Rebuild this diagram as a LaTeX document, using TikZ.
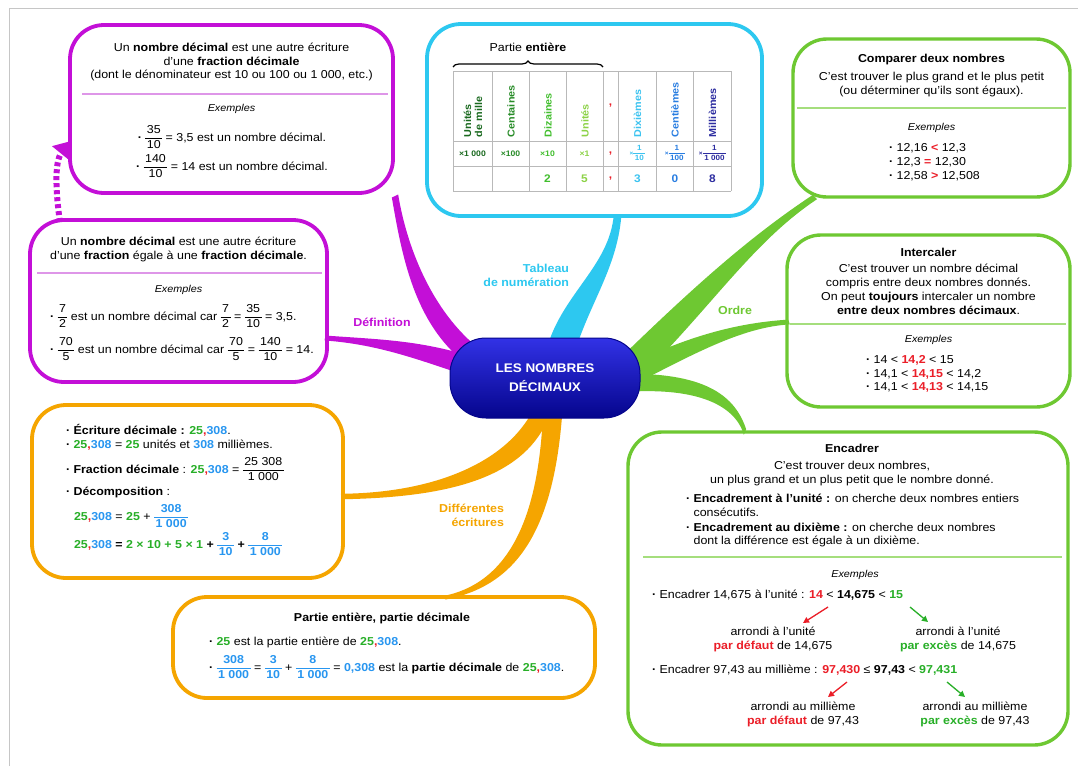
\documentclass[tikz,border=0pt]{standalone}
\usepackage{fontspec}
\setmainfont[FakeStretch=1.08]{Liberation Sans}
\setsansfont[FakeStretch=1.08]{Liberation Sans}
\usetikzlibrary{calc,arrows.meta,decorations.pathreplacing}
\pgfdeclarelayer{bg}
\pgfsetlayers{bg,main}
\definecolor{mpurple}{RGB}{195,15,215}
\definecolor{lpurple}{RGB}{222,150,232}
\definecolor{mcyan}{RGB}{45,200,240}
\definecolor{mgreen}{RGB}{110,200,50}
\definecolor{lgreen}{RGB}{165,222,125}
\definecolor{morange}{RGB}{245,165,0}
\definecolor{ngreen}{RGB}{40,175,40}
\definecolor{nblue}{RGB}{40,150,240}
\definecolor{nred}{RGB}{235,30,40}
\definecolor{cUm}{RGB}{25,105,30}
\definecolor{cCe}{RGB}{40,140,40}
\definecolor{cDi}{RGB}{65,190,45}
\definecolor{cUn}{RGB}{140,210,70}
\definecolor{cDx}{RGB}{60,195,240}
\definecolor{cCt}{RGB}{40,125,225}
\definecolor{cMi}{RGB}{45,45,160}
\definecolor{rootTop}{RGB}{50,50,230}
\definecolor{rootMid}{RGB}{20,20,205}
\definecolor{rootBot}{RGB}{5,5,140}
\setlength\arrayrulewidth{0.9pt}
\renewcommand\arraystretch{1.08}
\newcommand\fsz{\fontsize{11.5}{13.8}\selectfont}
\newcommand\fr[3][black]{{\color{#1}\begin{tabular}{@{\kern1.5pt}c@{\kern1.5pt}}#2\\\hline #3\end{tabular}}}
\newcommand\nb{\textbf{\textcolor{ngreen}{25}\textcolor{nred}{,}\textcolor{nblue}{308}}}
\newcommand\gr[1]{\textbf{\textcolor{ngreen}{#1}}}
\newcommand\bl[1]{\textbf{\textcolor{nblue}{#1}}}
\newcommand\rd[1]{\textbf{\textcolor{nred}{#1}}}
\newcommand\bul{\textbf{·}\ }
\newcommand\branch[7]{\fill[#1] ($(#2)!#6!90:(#5)$) .. controls ($(#3)!#6!90:(#5)$) and ($(#4)!#7!-90:(#2)$) .. ($(#5)!#7!-90:(#2)$) -- ($(#5)!#7!90:(#2)$) .. controls ($(#4)!#7!90:(#2)$) and ($(#3)!#6!-90:(#5)$) .. ($(#2)!#6!-90:(#5)$) -- cycle;}
\begin{document}
\begin{tikzpicture}[x=1pt,y=-1pt,font=\fsz,
  every node/.style={inner sep=0pt,outer sep=0pt},
  mbox/.style={draw,line width=3.8pt,rounded corners=34pt,anchor=north west},
  pbox/.style={mbox,draw=mpurple},
  obox/.style={mbox,draw=morange},
  gbox/.style={mbox,draw=mgreen,line width=3.4pt},
  cbox/.style={mbox,draw=mcyan},
  ctext/.style={align=center},
  ltext/.style={anchor=west,align=left},
  extxt/.style={font=\fontsize{10}{12}\selectfont\itshape},
  ttl/.style={font=\fsz\bfseries},
  lbl/.style={font=\fsz\bfseries,align=right},
  psep/.style={lpurple,line width=1.5pt},
  gsep/.style={lgreen,line width=1.5pt},
  hdr/.style={rotate=90,anchor=west,align=left,font=\fontsize{10}{11}\selectfont\bfseries},
  multxt/.style={font=\fontsize{8}{9}\selectfont\bfseries},
  digtxt/.style={font=\fontsize{11}{12}\selectfont\bfseries},
  commatxt/.style={font=\fontsize{11}{12}\selectfont\bfseries,text=nred},
  tgrid/.style={gray!55,line width=0.8pt},
  rootn/.style={rounded corners=36pt,minimum width=190pt,minimum height=80pt,
    top color=rootTop,middle color=rootMid,bottom color=rootBot,draw=rootBot,line width=1pt,
    text=white,font=\fontsize{12.5}{19}\selectfont\bfseries,align=center},
  smallarrow/.style={line width=1.3pt,-{Triangle[length=6pt,width=6pt]}}]
\begin{pgfonlayer}{bg}
\fill[white] (0,0) rectangle (1078,766);
\end{pgfonlayer}
\useasboundingbox (0,0) rectangle (1078,766);
\draw[gray!45,line width=0.8pt] (9,766) -- (9,8) -- (1078,8);

% ---------- centre
\node[rootn] (root) at (545,378) {LES NOMBRES\\DÉCIMAUX};

% ---------- Définition 1
\node[pbox,minimum width=323pt,minimum height=168pt] (d1) at (70,25) {};
\node[ctext] (d1t) at (231.5,62) {Un \textbf{nombre décimal} est une autre écriture\\d’une \textbf{fraction décimale}\\(dont le dénominateur est 10 ou 100 ou 1 000, etc.)};
\draw[psep] (82,94) -- (388,94);
\node[extxt] (d1e) at (231.5,109) {Exemples};
\node (d1a) at (232,138) {\bul\fr{35}{10} = 3,5 est un nombre décimal.};
\node (d1b) at (232,167) {\bul\fr{140}{10} = 14 est un nombre décimal.};

% ---------- Définition 2
\node[pbox,minimum width=297pt,minimum height=162pt] (d2) at (30,220) {};
\node[ctext] (d2t) at (178.5,249.5) {Un \textbf{nombre décimal} est une autre écriture\\d’une \textbf{fraction} égale à une \textbf{fraction décimale}.};
\draw[psep] (37,273) -- (322,273);
\node[extxt] (d2e) at (178.5,290) {Exemples};
\node[ltext] (d2a) at (50,317) {\bul\fr{7}{2} est un nombre décimal car \fr{7}{2} = \fr{35}{10} = 3,5.};
\node[ltext] (d2b) at (50,350) {\bul\fr{70}{5} est un nombre décimal car \fr{70}{5} = \fr{140}{10} = 14.};

% ---------- Différentes écritures 1
\node[obox,minimum width=311pt,minimum height=173pt] (o1) at (32,405) {};
\node[ltext] (o1a) at (66,430) {\bul\textbf{Écriture décimale :} \nb.};
\node[ltext] (o1b) at (66,445) {\bul\nb{} = \gr{25} unités et \bl{308} millièmes.};
\node[ltext] (o1c) at (66,470) {\bul\textbf{Fraction décimale} : \nb{} = \fr{25 308}{1 000}};
\node[ltext] (o1d) at (66,492) {\bul\textbf{Décomposition} :};
\node[ltext] (o1e) at (74,517) {\nb{} = \gr{25} + \fr[nblue]{\textbf{308}}{\textbf{1 000}}};
\node[ltext] (o1f) at (74,545) {\nb{} \textbf{=} \gr{2 × 10 + 5 × 1} \textbf{+} \fr[nblue]{\textbf{3}}{\textbf{10}} \textbf{+} \fr[nblue]{\textbf{8}}{\textbf{1 000}}};

% ---------- Différentes écritures 2
\node[obox,minimum width=422pt,minimum height=101pt] (o2) at (173,597) {};
\node[ttl] (o2t) at (382,618) {Partie entière, partie décimale};
\node[ltext] (o2a) at (209,642) {\bul\gr{25} est la partie entière de \nb.};
\node[ltext] (o2b) at (209,668) {\bul\fr[nblue]{\textbf{308}}{\textbf{1 000}} = \fr[nblue]{\textbf{3}}{\textbf{10}} + \fr[nblue]{\textbf{8}}{\textbf{1 000}} = \bl{0,308} est la \textbf{partie décimale} de \nb.};

% ---------- Tableau
\node[cbox,minimum width=335pt,minimum height=192pt] (tb) at (427,24) {};
\node (pe) at (528,47) {Partie \textbf{entière}};
\draw[decorate,decoration={brace,amplitude=6pt},line width=1.2pt] (453,67) -- (603,67);
\foreach \cx in {453,492,529,566,603,618,656,693,731} \draw[tgrid] (\cx,71) -- (\cx,191);
\foreach \ry in {71,141,166,191} \draw[tgrid] (453,\ry) -- (731,\ry);
\node[hdr,text=cUm] (hUm) at (473,137) {Unités\\de mille};
\node[hdr,text=cCe] (hCe) at (511,137) {Centaines};
\node[hdr,text=cDi] (hDi) at (548,137) {Dizaines};
\node[hdr,text=cUn] (hUn) at (585,137) {Unités};
\node[commatxt] (hv1) at (610.5,106) {,};
\node[hdr,text=cDx] (hDx) at (637.5,137) {Dixièmes};
\node[hdr,text=cCt] (hCt) at (675,137) {Centièmes};
\node[hdr,text=cMi] (hMi) at (712.5,137) {Millièmes};
\node[multxt,text=cUm] (mUm) at (472.5,153.5) {×1 000};
\node[multxt,text=cCe] (mCe) at (510.5,153.5) {×100};
\node[multxt,text=cDi] (mDi) at (547.5,153.5) {×10};
\node[multxt,text=cUn] (mUn) at (584.5,153.5) {×1};
\node[commatxt] (hv2) at (610.5,153.5) {,};
\node[multxt,text=cDx] (mDx) at (637.5,153.5) {{\fontsize{6}{7}\selectfont×}{\fontsize{7.5}{8.5}\selectfont\fr[cDx]{1}{10}}};
\node[multxt,text=cCt] (mCt) at (675,153.5) {{\fontsize{6}{7}\selectfont×}{\fontsize{7.5}{8.5}\selectfont\fr[cCt]{1}{100}}};
\node[multxt,text=cMi] (mMi) at (712.5,153.5) {{\fontsize{6}{7}\selectfont×}{\fontsize{7.5}{8.5}\selectfont\fr[cMi]{1}{1 000}}};
\node[digtxt,text=cDi] (vDi) at (547.5,178.5) {2};
\node[digtxt,text=cUn] (vUn) at (584.5,178.5) {5};
\node[commatxt] (hv3) at (610.5,178.5) {,};
\node[digtxt,text=cDx] (vDx) at (637.5,178.5) {3};
\node[digtxt,text=cCt] (vCt) at (675,178.5) {0};
\node[digtxt,text=cMi] (vMi) at (712.5,178.5) {8};

% ---------- Comparer
\node[gbox,minimum width=277pt,minimum height=158pt] (g1) at (793,39) {};
\node[ttl] (g1t) at (931.5,60) {Comparer deux nombres};
\node[ctext] (g1d) at (931.5,84.5) {C’est trouver le plus grand et le plus petit\\(ou déterminer qu’ils sont égaux).};
\draw[gsep] (797,108) -- (1066,108);
\node[extxt] (g1e) at (931.5,128) {Exemples};
\node[ltext] (g1a) at (889,162) {\bul 12,16 \rd{<} 12,3\\\bul 12,3 \rd{=} 12,30\\\bul 12,58 \rd{>} 12,508};

% ---------- Intercaler
\node[gbox,minimum width=283pt,minimum height=172pt] (g2) at (787,235) {};
\node[ttl] (g2t) at (928.5,252) {Intercaler};
\node[ctext] (g2d) at (928.5,289.5) {C’est trouver un nombre décimal\\compris entre deux nombres donnés.\\On peut \textbf{toujours} intercaler un nombre\\\textbf{entre deux nombres décimaux}.};
\draw[gsep] (790,324) -- (1066,324);
\node[extxt] (g2e) at (928.5,340) {Exemples};
\node[ltext] (g2a) at (866,374) {\bul 14 < \rd{14,2} < 15\\\bul 14,1 < \rd{14,15} < 14,2\\\bul 14,1 < \rd{14,13} < 14,15};

% ---------- Encadrer
\node[gbox,minimum width=440pt,minimum height=313pt] (g3) at (628,432) {};
\node[ttl] (g3t) at (852,448) {Encadrer};
\node[ctext] (g3d) at (852,473.5) {C’est trouver deux nombres,\\un plus grand et un plus petit que le nombre donné.};
\node[ltext] (g3a) at (686,505) {\bul\textbf{Encadrement à l’unité :} on cherche deux nombres entiers\\\phantom{\bul}consécutifs.};
\node[ltext] (g3b) at (686,535) {\bul\textbf{Encadrement au dixième :} on cherche deux nombres\\\phantom{\bul}dont la différence est égale à un dixième.};
\draw[gsep] (643,557) -- (1062,557);
\node[extxt] (g3e) at (855,575) {Exemples};
\node[ltext] (g3f) at (652,595) {\bul Encadrer 14,675 à l’unité : \rd{14} < \textbf{14,675} < \gr{15}};
\node[ctext] (g3g) at (773,639.5) {arrondi à l’unité\\\rd{par défaut} de 14,675};
\node[ctext] (g3h) at (958,639.5) {arrondi à l’unité\\\gr{par excès} de 14,675};
\node[ltext] (g3i) at (652,670) {\bul Encadrer 97,43 au millième : \rd{97,430} ≤ \textbf{97,43} < \gr{97,431}};
\node[ctext] (g3j) at (803,714.5) {arrondi au millième\\\rd{par défaut} de 97,43};
\node[ctext] (g3k) at (975,714.5) {arrondi au millième\\\gr{par excès} de 97,43};
\coordinate (ra1) at (828,607); \coordinate (ra2) at (803,623);
\coordinate (ga1) at (910,607); \coordinate (ga2) at (928,622);
\coordinate (rb1) at (847,682); \coordinate (rb2) at (828,697);
\coordinate (gb1) at (947,682); \coordinate (gb2) at (965,697);
\draw[smallarrow,nred] (ra1) -- (ra2);
\draw[smallarrow,ngreen] (ga1) -- (ga2);
\draw[smallarrow,nred] (rb1) -- (rb2);
\draw[smallarrow,ngreen] (gb1) -- (gb2);

% ---------- branch labels
\node[lbl,text=mpurple] (lDef) at (382,322) {Définition};
\node[lbl,text=mcyan,anchor=east] (lTab) at (569,275.5) {Tableau\\de numération};
\node[lbl,text=mgreen] (lOrd) at (735,310) {Ordre};
\node[lbl,text=morange,anchor=east] (lDif) at (504,515.5) {Différentes\\écritures};

% ---------- dotted arrow
\coordinate (ar0) at ($(d2.north west)+(30,2)$);
\coordinate (ar1) at ($(d1.west)+(1,32)$);
\draw[mpurple,line width=6pt,dash pattern=on 4pt off 3pt,-{Triangle[length=16pt,width=22pt]}] (ar0) .. controls (56,195) and (54,162) .. (ar1);

% ---------- branches
\begin{pgfonlayer}{bg}
\coordinate (pa0) at ($(d1.south east)+(2,3)$);
\coordinate (pa3) at ($(root.west)+(25,-20)$);
\branch{mpurple}{pa0}{405,255}{425,320}{pa3}{3.5pt}{11pt}
\coordinate (pb0) at ($(d2.east)+(-2,37)$);
\coordinate (pb3) at ($(root.west)+(25,-10)$);
\branch{mpurple}{pb0}{380,342}{420,350}{pb3}{2.5pt}{10pt}
\coordinate (pc0) at ($(tb.south)+(23,0)$);
\coordinate (pc3) at ($(root.north)+(15,15)$);
\branch{mcyan}{pc0}{613,268}{575,300}{pc3}{4pt}{14pt}
\coordinate (gc0) at ($(g1.south west)+(22,0)$);
\coordinate (gc3) at ($(root.east)+(-15,-5)$);
\branch{mgreen}{gc0}{750,240}{700,300}{gc3}{3pt}{14pt}
\coordinate (gi0) at ($(g2.west)+(2,1)$);
\coordinate (gi3) at ($(root.east)+(-15,0)$);
\branch{mgreen}{gi0}{740,325}{690,345}{gi3}{2.5pt}{10pt}
\coordinate (ge0) at ($(g3.north west)+(117,0)$);
\coordinate (ge3) at ($(root.east)+(-15,5)$);
\branch{mgreen}{ge0}{735,400}{700,380}{ge3}{3pt}{10pt}
\coordinate (oa0) at ($(o1.east)+(-1,5)$);
\coordinate (oa3) at ($(root.south)+(0,-15)$);
\branch{morange}{oa0}{450,495}{525,465}{oa3}{3pt}{12pt}
\coordinate (ob0) at ($(o2.north)+(59,1)$);
\coordinate (ob3) at ($(root.south)+(8,-15)$);
\branch{morange}{ob0}{515,585}{548,520}{ob3}{3pt}{11pt}
\end{pgfonlayer}
\end{tikzpicture}
\end{document}
